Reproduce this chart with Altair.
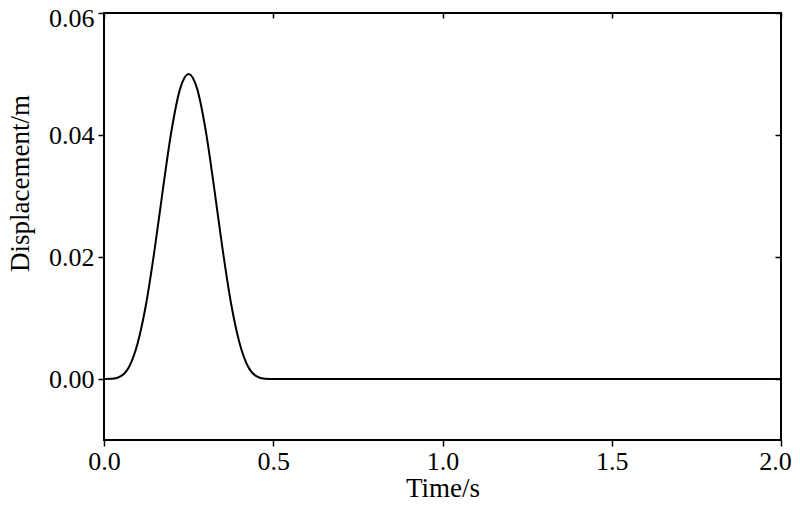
import altair as alt
import pandas as pd

# Values (pulse between 0 and 0.5 s, then flat at zero)
time_s = [0.0, 0.025, 0.05, 0.075, 0.1, 0.125, 0.15, 0.175, 0.2, 0.225,
          0.25, 0.275, 0.3, 0.325, 0.35, 0.375, 0.4, 0.425, 0.45, 0.475,
          0.5, 1.0, 1.5, 2.0]
disp_m = [0.0, 0.00003, 0.00046, 0.0021, 0.0060, 0.0125, 0.0214, 0.0315, 0.0409, 0.0476,
          0.0500, 0.0476, 0.0409, 0.0315, 0.0214, 0.0125, 0.0060, 0.0021, 0.00046, 0.00003,
          0.0, 0.0, 0.0, 0.0]

x_ticks = [0.0, 0.5, 1.0, 1.5, 2.0]
x_ticks_low = [0.0, 0.5, 1.0, 1.5]
x_ticks_end = [2.0]
y_ticks = [0.0, 0.02, 0.04, 0.06]
y_ticks_low = [0.0, 0.02, 0.04]
y_ticks_top = [0.06]
x_domain = [0.0, 2.0]
y_domain = [-0.01, 0.06]

df = pd.DataFrame({"t": time_s, "d": disp_m})

FONT = "Liberation Serif"
W, H = 677, 427

xscale = alt.Scale(domain=x_domain, nice=False, zero=False)
yscale = alt.Scale(domain=y_domain, nice=False, zero=False)

label_style = dict(labelFont=FONT, labelFontSize=26, labelColor="black", labelFlush=False)
tick_style = dict(domain=False, grid=False, tickWidth=1.5, tickColor="black")

main = alt.Chart(df).mark_line(color="black", strokeWidth=2, interpolate="monotone").encode(
    x=alt.X("t:Q", scale=xscale,
            axis=alt.Axis(orient="bottom", values=x_ticks_low, format=".1f", title="Time/s",
                          tickSize=6, labelPadding=2, **tick_style, **label_style,
                          titleFont=FONT, titleFontSize=27, titleFontWeight="normal",
                          titleColor="black", titleBaseline="alphabetic", titleY=56)),
    y=alt.Y("d:Q", scale=yscale,
            axis=alt.Axis(orient="left", values=y_ticks_low, format=".2f", title="Displacement/m",
                          tickSize=6, labelPadding=4, **tick_style, **label_style,
                          titleFont=FONT, titleFontSize=27, titleFontWeight="normal",
                          titleColor="black", titleAngle=270, titleBaseline="alphabetic",
                          titleAlign="center", titleX=-76, titleY=170)),
)

# end labels of both axes, nudged a little so they are not cut at the page edge
edge_labels = alt.Chart(df).mark_line(opacity=0).encode(
    x=alt.X("t:Q", scale=xscale,
            axis=alt.Axis(orient="bottom", values=x_ticks_end, format=".1f", title=None,
                          tickSize=6, labelPadding=2, labelOffset=-6, **tick_style, **label_style)),
    y=alt.Y("d:Q", scale=yscale,
            axis=alt.Axis(orient="left", values=y_ticks_top, format=".2f", title=None,
                          tickSize=6, labelPadding=4, labelOffset=5, **tick_style, **label_style)),
)

# inward ticks on the top and right edges
inner = alt.Chart(df).mark_line(opacity=0).encode(
    x=alt.X("t:Q", scale=xscale,
            axis=alt.Axis(orient="bottom", offset=-H, values=x_ticks, labels=False, title=None,
                          tickSize=5, **tick_style)),
    y=alt.Y("d:Q", scale=yscale,
            axis=alt.Axis(orient="left", offset=-W, values=y_ticks, labels=False, title=None,
                          tickSize=6, **tick_style)),
)

chart = alt.layer(main, edge_labels, inner).resolve_axis(x="independent", y="independent").properties(
    width=W, height=H,
    autosize=alt.AutoSizeParams(type="none"),
    padding={"left": 96, "top": 5, "right": 11, "bottom": 59},
    background="white",
).configure_view(stroke="black", strokeWidth=2)

chart.save("out.html", embed_options={"renderer": "svg", "actions": False})
